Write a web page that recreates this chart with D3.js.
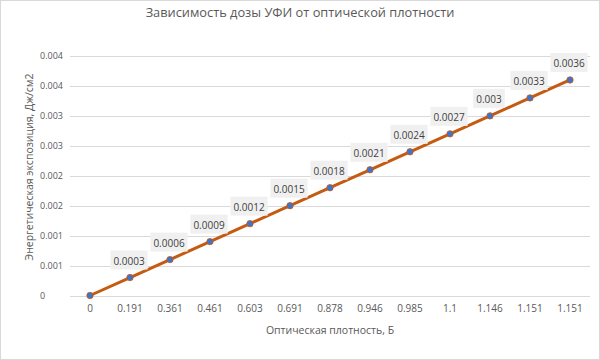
<!DOCTYPE html>
<html><head><meta charset="utf-8">
<script src="https://cdn.jsdelivr.net/npm/d3@7/dist/d3.min.js"></script>
<style>body{margin:0;background:#fff}svg{display:block;font-family:"Open Sans",sans-serif}</style>
</head><body><svg id="c" width="600" height="360"></svg>
<script>
const categories = ["0","0.191","0.361","0.461","0.603","0.691","0.878","0.946","0.985","1.1","1.146","1.151","1.151"];
const values = [0,0.0003,0.0006,0.0009,0.0012,0.0015,0.0018,0.0021,0.0024,0.0027,0.003,0.0033,0.0036];
const yTicks = [0,0.0005,0.001,0.0015,0.002,0.0025,0.003,0.0035,0.004];
const title = "Зависимость дозы УФИ от оптической плотности";
const xTitle = "Оптическая плотность, Б";
const yTitle = "Энергетическая экспозиция, Дж/см2";

const svg = d3.select("#c");
svg.append("rect").attr("x",0.5).attr("y",0.5).attr("width",599).attr("height",359)
  .attr("fill","#fff").attr("stroke","#d9d9d9");

const x = d3.scaleBand().domain(d3.range(categories.length)).range([70,590]);
const y = d3.scaleLinear().domain([0,0.004]).range([295.5,56]);

// gridlines
svg.append("g").selectAll("line").data(yTicks).join("line")
  .attr("x1",70).attr("x2",590).attr("y1",d=>Math.round(y(d))+0.5).attr("y2",d=>Math.round(y(d))+0.5)
  .attr("stroke","#d9d9d9").attr("stroke-width",1);

// y tick labels
svg.append("g").selectAll("text").data(yTicks).join("text")
  .attr("x",40).attr("y",d=>y(d)+3).attr("font-size",9).attr("fill","#595959")
  .text(d=>d===0?"0":d3.format(".3f")(d));

// x axis via d3 axis
const xAxis = svg.append("g").attr("transform","translate(0,296)")
  .call(d3.axisBottom(x).tickSize(0).tickPadding(9).tickFormat(i=>categories[i]));
xAxis.select(".domain").remove();
xAxis.selectAll("text").attr("font-size",10).attr("fill","#595959").attr("font-family","Open Sans");

const cx = i => x(i)+x.bandwidth()/2;

// line
svg.append("path").datum(values)
  .attr("d",d3.line().x((d,i)=>cx(i)).y(d=>y(d)))
  .attr("fill","none").attr("stroke","#c55a11").attr("stroke-width",3).attr("stroke-linecap","round");

// markers
svg.append("g").selectAll("circle").data(values).join("circle")
  .attr("cx",(d,i)=>cx(i)).attr("cy",d=>y(d)).attr("r",3.2)
  .attr("fill","#4472c4").attr("stroke","#c55a11").attr("stroke-width",0.8);

// data labels
const lbl = svg.append("g").selectAll("g").data(values.map((v,i)=>({v,i})).filter(d=>d.i>0)).join("g");
lbl.each(function(d){
  const g = d3.select(this);
  const t = g.append("text").attr("x",cx(d.i)-1).attr("y",y(d.v)-12.5)
    .attr("text-anchor","middle").attr("font-size",10).attr("fill","#404040").text(String(d.v));
  const w = t.node().getComputedTextLength()+6;
  g.insert("rect","text").attr("x",cx(d.i)-1-w/2).attr("y",y(d.v)-27).attr("width",w).attr("height",19)
    .attr("fill","#f0f0f0");
});

// titles
svg.append("text").attr("x",300).attr("y",17).attr("text-anchor","middle").attr("font-size",12.8)
  .attr("fill","#595959").text(title);
svg.append("text").attr("x",330).attr("y",334).attr("text-anchor","middle").attr("font-size",10.5)
  .attr("fill","#595959").text(xTitle);
svg.append("text").attr("transform","translate(32.5,167) rotate(-90)").attr("text-anchor","middle")
  .attr("font-size",10.5).attr("fill","#595959").text(yTitle);
</script></body></html>
